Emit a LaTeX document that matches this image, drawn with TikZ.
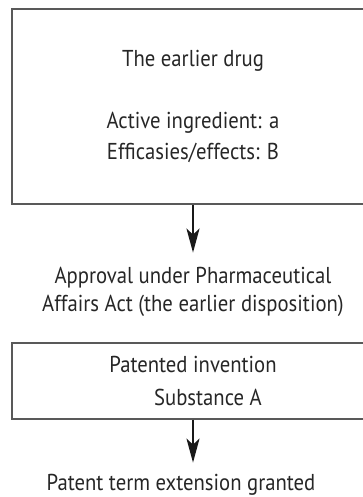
\documentclass[tikz,border=0pt]{standalone}
\usepackage{fontspec}
\setmainfont[FakeStretch=0.9]{PT Sans}
\usetikzlibrary{positioning, arrows.meta}

\begin{document}
\begin{tikzpicture}[x=1pt, y=1pt, node distance=20pt,
    every node/.style={font=\fontsize{23}{31}\selectfont, text=black!85}]
  \tikzset{
    box/.style={rectangle, draw=black!65, line width=1.2pt, minimum width=362pt, align=center, inner sep=0pt},
    label/.style={align=center, inner sep=0pt},
    arrow/.style={line width=2.2pt, -{Stealth[length=24pt, width=13pt, inset=6pt]}, draw=black!90}
  }
  \useasboundingbox (0,0) rectangle (363,-497);

  \node (drug) [box, minimum height=195pt] at (193,-106.5)
    {The earlier drug\\ \\Active ingredient: a\\Efficasies/effects: B};
  \node (approval) [label, font=\fontsize{23}{28}\selectfont, below=62pt of drug]
    {Approval under Pharmaceutical\\Affairs Act (the earlier disposition)};
  \node (invention) [box, minimum height=76pt, below=26pt of approval]
    {Patented invention\\[2pt]\hspace*{30pt}Substance A};
  \node (granted) [label, below=54pt of invention, xshift=-12pt] {Patent term extension granted};

  \draw [arrow, shorten >=14pt] (drug) -- (approval);
  \draw [arrow, shorten >=11pt] (invention.south) -- (invention.south |- granted.north);
\end{tikzpicture}
\end{document}
